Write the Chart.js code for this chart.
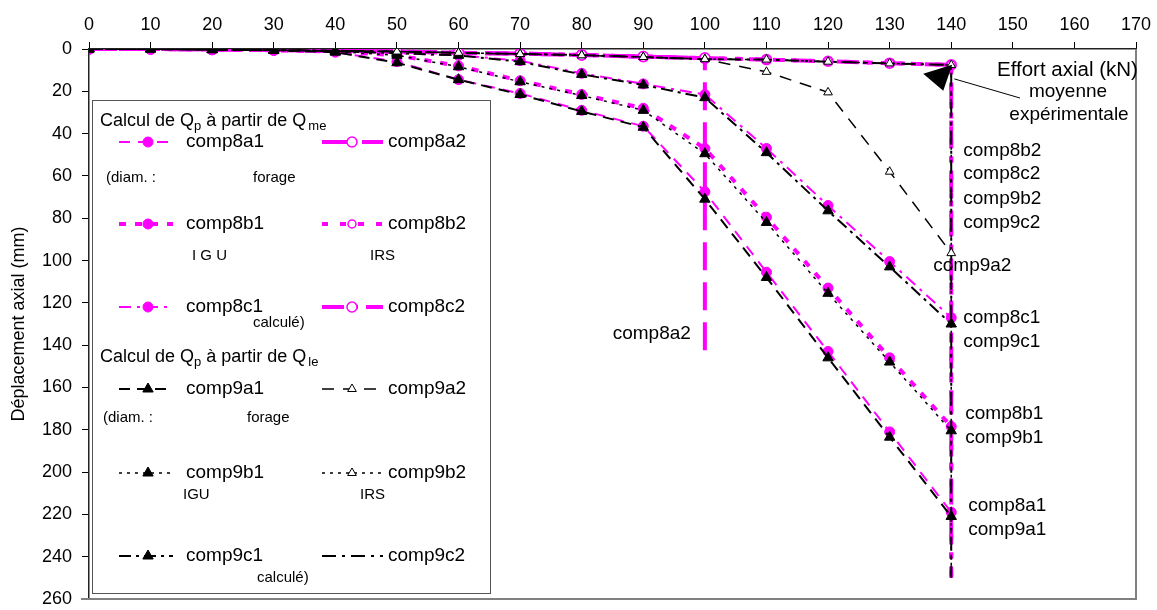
<!DOCTYPE html>
<html><head><meta charset="utf-8">
<script src="https://cdn.jsdelivr.net/npm/chart.js@4.4.0/dist/chart.umd.min.js"></script>
<style>html,body{margin:0;padding:0;background:#fff}</style>
</head><body>
<canvas id="c" width="1157" height="610"></canvas>
<script>
// ---- data ----
const forces = [0,10,20,30,40,50,60,70,80,90,100,110,120,130,140];
const xTickValues = [0,10,20,30,40,50,60,70,80,90,100,110,120,130,140,150,160,170];
const yTickValues = [0,20,40,60,80,100,120,140,160,180,200,220,240,260];

const comp8a1 = [0,0,0.3,0.6,1.5,6,14.5,21,29,36.5,67.5,105.5,143,181,219];
const comp9a1 = [0,0,0.3,0.6,1.5,6.5,14.5,21.5,29.5,37,71,108,146,183.5,221];
const comp8b1 = [0,0,0.3,0.6,1.2,3,8,15,21.5,28,47,79.5,113,146,178.5];
const comp9b1 = [0,0,0.3,0.6,1.2,3,8.4,15.5,22,29,49.5,82,115.5,148,180.5];
const comp8c1 = [0,0,0.3,0.5,1,2,3,5.5,11.5,16.5,21.5,47,74,100.5,127];
const comp9c1 = [0,0,0.3,0.5,1,2,3,6,12,17,23,49,76.5,103,130];

const comp8a2 = [0,0,0.2,0.5,0.8,1.2,1.8,2.2,2.8,3.6,4.3];
const comp8b2 = [0,0,0.2,0.5,0.8,1.2,1.8,2.2,2.8,3.6,4.3,5,5.8,6.7,7.5];
const comp8c2 = [0,0,0.2,0.5,0.8,1.2,1.8,2.2,2.8,3.6,4.3,5,5.8,6.7,7.5];
const comp9a2 = [0,0,0.2,0.5,0.8,1.2,1.8,2.4,3,3.8,4.8,10.8,20.5,58,96.5];
const comp9b2 = [0,0,0.2,0.5,0.8,1.2,1.8,2.3,2.9,3.8,4.8,5,6,6.8,7.6];
const comp9c2 = [0,0,0.2,0.5,0.8,1.2,1.8,2.3,2.9,3.8,4.8,5,6,6.8,7.6];
const comp8a2Drop = 146;   // vertical drop at 100 kN
const failureDrop = 250;   // vertical drop at 140 kN

// ---- styles ----
const MAG = '#ff00ff';
const FONT = '"Liberation Sans", Arial, Helvetica, sans-serif';

function pts(vals, drop) {
  const d = vals.map((v, i) => ({x: forces[i], y: v}));
  if (drop !== undefined) d.push({x: forces[vals.length - 1], y: drop});
  return d;
}
function mk(label, vals, drop, st) {
  const n = vals.length;
  const r = st.r;
  return {
    label, data: pts(vals, drop),
    borderColor: st.color, borderWidth: st.w, borderDash: st.dash,
    pointStyle: st.ps, markerSize: r,
    pointRadius: ctx => (ctx.dataIndex >= n ? 0 : r),
    pointBackgroundColor: st.fill, pointBorderColor: st.color,
    pointBorderWidth: st.pbw, order: st.order, showLine: true, fill: false,
    tension: 0
  };
}

const datasets = [
  mk('comp8a1', comp8a1, undefined, {color: MAG, w: 2, dash: [11, 8], ps: 'circle', r: 5, fill: MAG, pbw: 1, order: 2}),
  mk('comp8a2', comp8a2, comp8a2Drop, {color: MAG, w: 4, dash: [28, 12], ps: 'circle', r: 5, fill: '#fff', pbw: 1.5, order: 2}),
  mk('comp8b1', comp8b1, undefined, {color: MAG, w: 4, dash: [7, 9], ps: 'circle', r: 5, fill: MAG, pbw: 1, order: 2}),
  mk('comp8b2', comp8b2, failureDrop, {color: MAG, w: 4, dash: [6, 12], ps: 'circle', r: 4, fill: '#fff', pbw: 1.5, order: 2}),
  mk('comp8c1', comp8c1, undefined, {color: MAG, w: 2, dash: [12, 6, 3, 6], ps: 'circle', r: 5, fill: MAG, pbw: 1, order: 2}),
  mk('comp8c2', comp8c2, failureDrop, {color: MAG, w: 4, dash: [22, 8, 6, 8], ps: 'circle', r: 5, fill: '#fff', pbw: 1.5, order: 2}),
  mk('comp9a1', comp9a1, undefined, {color: '#000', w: 2, dash: [11, 7], ps: 'triangle', r: 6, fill: '#000', pbw: 1, order: 1}),
  mk('comp9a2', comp9a2, undefined, {color: '#000', w: 1.5, dash: [12, 9], ps: 'triangle', r: 5, fill: '#fff', pbw: 1, order: 1}),
  mk('comp9b1', comp9b1, undefined, {color: '#000', w: 1.5, dash: [3, 5], ps: 'triangle', r: 6, fill: '#000', pbw: 1, order: 1}),
  mk('comp9b2', comp9b2, failureDrop, {color: '#000', w: 1.5, dash: [3, 5], ps: 'triangle', r: 5, fill: '#fff', pbw: 1, order: 1}),
  mk('comp9c1', comp9c1, undefined, {color: '#000', w: 2, dash: [12, 5, 3, 5], ps: 'triangle', r: 6, fill: '#000', pbw: 1, order: 1}),
  mk('comp9c2', comp9c2, failureDrop, {color: '#000', w: 2, dash: [14, 6, 3, 6], ps: 'triangle', r: 0, fill: '#fff', pbw: 1, order: 1})
];

// ---- plugins ----
const framePlugin = {
  id: 'frame',
  beforeDatasetsDraw(chart) {
    const {ctx, chartArea: a} = chart;
    ctx.save();
    ctx.strokeStyle = '#808080'; ctx.lineWidth = 2;
    ctx.beginPath();
    ctx.moveTo(a.right, a.top); ctx.lineTo(a.right, a.bottom); ctx.lineTo(a.left - 8, a.bottom);
    ctx.stroke();
    ctx.restore();
  }
};

function drawMarker(ctx, ds, x, y) {
  if (!ds.markerSize) return;
  ctx.fillStyle = ds.pointBackgroundColor;
  ctx.strokeStyle = ds.pointBorderColor;
  ctx.lineWidth = ds.pointBorderWidth;
  Chart.helpers.drawPoint(ctx, {pointStyle: ds.pointStyle, radius: ds.markerSize, rotation: 0, borderWidth: ds.pointBorderWidth}, x, y);
}

const annotPlugin = {
  id: 'annot',
  afterDatasetsDraw(chart) {
    const {ctx} = chart;
    const xs = chart.scales.x, ys = chart.scales.y;
    ctx.save();
    // ---- legend box ----
    ctx.fillStyle = '#fff';
    ctx.fillRect(92, 100, 398, 493);
    ctx.strokeStyle = '#555'; ctx.lineWidth = 1;
    ctx.strokeRect(92.5, 100.5, 398, 493);

    function heading(x, y, sub) {
      ctx.fillStyle = '#000'; ctx.textAlign = 'left'; ctx.textBaseline = 'alphabetic';
      ctx.font = '18px ' + FONT;
      let t = 'Calcul de Q'; ctx.fillText(t, x, y); x += ctx.measureText(t).width;
      ctx.font = '13px ' + FONT; ctx.fillText('p', x, y + 4); x += ctx.measureText('p').width;
      ctx.font = '18px ' + FONT; t = ' à partir de Q'; ctx.fillText(t, x, y); x += ctx.measureText(t).width;
      ctx.font = '13px ' + FONT; ctx.fillText(sub, x + 2, y + 4);
    }
    function entry(i, col, y) {
      const ds = chart.data.datasets[i];
      const x1 = col === 0 ? 119 : 322, x2 = col === 0 ? 173 : 383;
      const xm = col === 0 ? 148 : 352, xt = col === 0 ? 186 : 388;
      ctx.save();
      ctx.strokeStyle = ds.borderColor; ctx.lineWidth = ds.borderWidth;
      ctx.setLineDash(ds.borderDash || []);
      ctx.beginPath(); ctx.moveTo(x1, y); ctx.lineTo(x2, y); ctx.stroke();
      ctx.setLineDash([]);
      drawMarker(ctx, ds, xm, y);
      ctx.restore();
      ctx.fillStyle = '#000'; ctx.font = '19px ' + FONT;
      ctx.textAlign = 'left'; ctx.textBaseline = 'middle';
      ctx.fillText(ds.label, xt, y);
    }
    function small(t, x, y) {
      ctx.fillStyle = '#000'; ctx.font = '15px ' + FONT;
      ctx.textAlign = 'left'; ctx.textBaseline = 'middle';
      ctx.fillText(t, x, y);
    }
    heading(100, 126, 'me');
    entry(0, 0, 142); entry(1, 1, 142);
    small('(diam. :', 106, 178); small('forage', 253, 178);
    entry(2, 0, 224); entry(3, 1, 224);
    small('I G U', 192, 256); small('IRS', 370, 256);
    entry(4, 0, 307); entry(5, 1, 307);
    small('calculé)', 253, 323);

    heading(100, 362, 'le');
    entry(6, 0, 389); entry(7, 1, 389);
    small('(diam. :', 103, 418); small('forage', 247, 418);
    entry(8, 0, 473); entry(9, 1, 473);
    small('IGU', 183, 495); small('IRS', 360, 495);
    entry(10, 0, 556); entry(11, 1, 556);
    small('calculé)', 257, 578);

    // ---- text annotations ----
    ctx.fillStyle = '#000'; ctx.textBaseline = 'middle';
    ctx.textAlign = 'left';
    ctx.font = '20.5px ' + FONT;
    ctx.fillText('Effort axial (kN)', 997, 70);
    ctx.font = '19px ' + FONT;
    ctx.textAlign = 'center';
    ctx.fillText('moyenne', 1068, 92);
    ctx.fillText('expérimentale', 1069, 115);

    const x140 = xs.getPixelForValue(140);
    ctx.textAlign = 'left';
    [['comp8b2', 151], ['comp8c2', 174], ['comp9b2', 199], ['comp9c2', 223]].forEach(([t, y]) => ctx.fillText(t, x140 + 12, y));
    ctx.fillText('comp9a2', x140 - 18, 266);
    ctx.fillText('comp8c1', x140 + 12, 318); ctx.fillText('comp9c1', x140 + 12, 342);
    ctx.fillText('comp8b1', x140 + 14, 414); ctx.fillText('comp9b1', x140 + 14, 438);
    ctx.fillText('comp8a1', x140 + 17, 506); ctx.fillText('comp9a1', x140 + 17, 530);
    ctx.textAlign = 'right';
    ctx.fillText('comp8a2', xs.getPixelForValue(100) - 14, 334);

    // arrow to mean experimental point
    const px = x140 + 1, py = ys.getPixelForValue(7.5);
    ctx.beginPath();
    ctx.moveTo(px, py); ctx.lineTo(px - 29, py + 9); ctx.lineTo(px - 9, py + 26); ctx.closePath();
    ctx.fill();
    ctx.strokeStyle = '#000'; ctx.lineWidth = 1;
    ctx.beginPath(); ctx.moveTo(px + 2, py + 14); ctx.lineTo(1020, 98); ctx.stroke();
    ctx.restore();
  }
};

// ---- chart ----
new Chart(document.getElementById('c'), {
  type: 'line',
  data: {datasets},
  plugins: [framePlugin, annotPlugin],
  options: {
    responsive: false, animation: false,
    layout: {padding: {left: 0, top: 0, right: 21, bottom: 11}},
    plugins: {legend: {display: false}, tooltip: {enabled: false}},
    scales: {
      x: {
        type: 'linear', position: 'top', min: 0, max: 170,
        afterBuildTicks: s => { s.ticks = xTickValues.map(v => ({value: v})); },
        afterFit: s => { s.height = 49; s.paddingLeft = 0; s.paddingRight = 0; },
        ticks: {color: '#000', font: {family: FONT, size: 18}, padding: 6, maxRotation: 0, autoSkip: false},
        grid: {drawOnChartArea: false, drawTicks: true, tickLength: 7, color: '#000'},
        border: {display: true, color: '#222', width: 1.5}
      },
      y: {
        type: 'linear', reverse: true, min: 0, max: 260,
        afterBuildTicks: s => { s.ticks = yTickValues.map(v => ({value: v})); },
        afterFit: s => { s.width = 89; s.paddingTop = 0; s.paddingBottom = 0; },
        ticks: {color: '#000', font: {family: FONT, size: 18}, padding: 10, autoSkip: false},
        grid: {drawOnChartArea: false, drawTicks: true, tickLength: 7, color: '#000'},
        border: {display: true, color: '#222', width: 1.5},
        title: {display: true, text: 'Déplacement axial (mm)', color: '#000', font: {family: FONT, size: 18}, padding: {top: 8, bottom: 0}}
      }
    }
  }
});
</script>
</body></html>
